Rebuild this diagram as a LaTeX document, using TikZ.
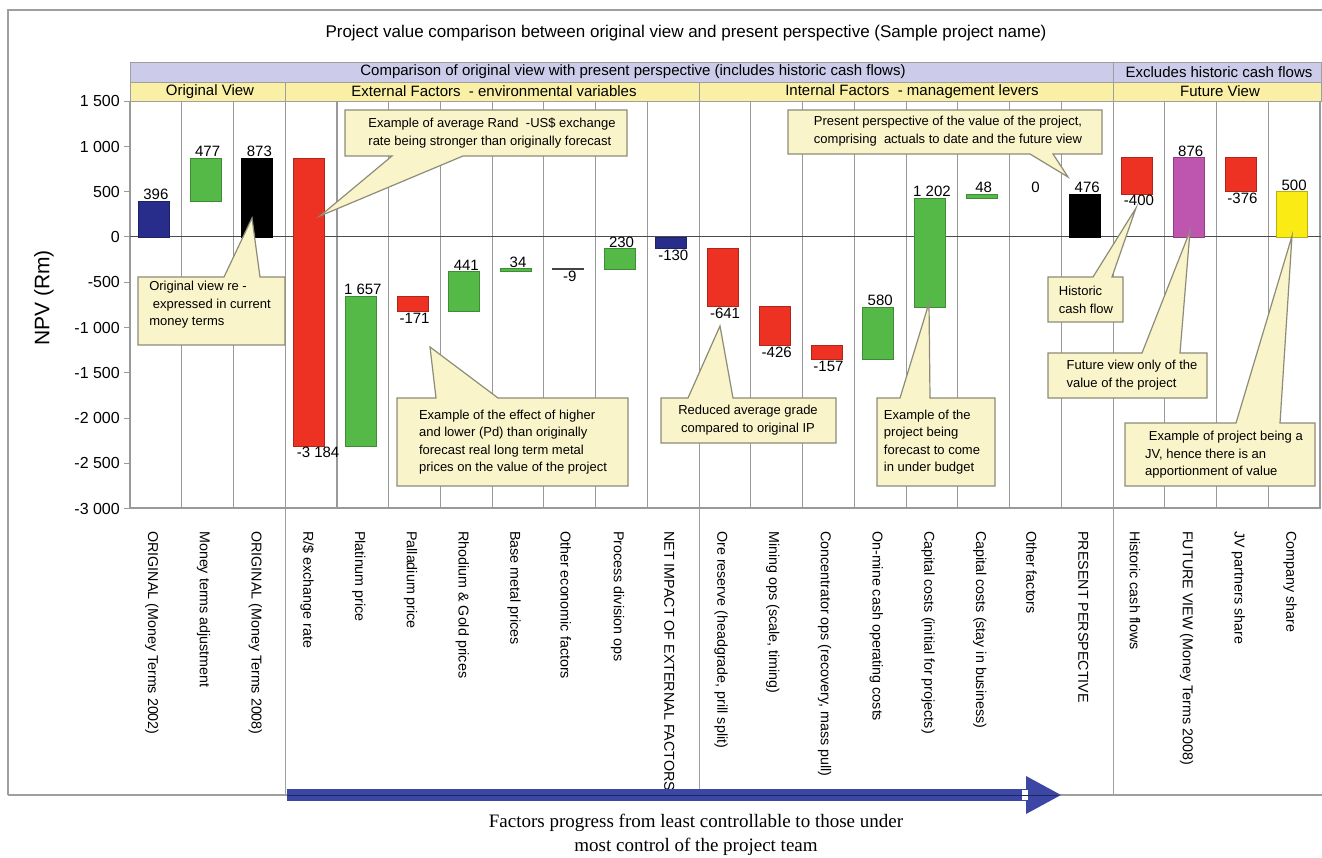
\documentclass[tikz,border=0pt]{standalone}
\usepackage{fontspec}
\setmainfont{Liberation Sans}
\newfontfamily\capserif{Liberation Serif}

\definecolor{barblue}{RGB}{40,45,140}
\definecolor{bargreen}{RGB}{85,185,72}
\definecolor{barred}{RGB}{237,50,36}
\definecolor{barmag}{RGB}{190,85,175}
\definecolor{baryellow}{RGB}{250,235,20}
\definecolor{bargrey}{RGB}{90,90,90}
\definecolor{bandpurple}{RGB}{204,204,234}
\definecolor{bandyellow}{RGB}{250,240,165}
\definecolor{callfill}{RGB}{250,244,202}
\definecolor{callline}{RGB}{140,140,120}
\definecolor{arrowblue}{RGB}{60,70,165}

\newcommand\fsz[2]{\fontsize{#1}{#2}\selectfont}

% waterfall bar: index, from, to, colour, label, a(bove)/b(elow), label x-shift
\newcommand\wfbar[7]{%
  \pgfmathsetmacro\bx{130+(#1-0.5)*51.74}%
  \pgfmathsetmacro\ya{237-(#2)*0.0905}%
  \pgfmathsetmacro\yb{237-(#3)*0.0905}%
  \pgfmathsetmacro\ytop{min(\ya,\yb)}%
  \pgfmathsetmacro\ybot{max(\ya,\yb)}%
  \filldraw[fill=#4, draw=#4!75!black, line width=0.8pt] (\bx-17.5,\ya) rectangle (\bx+13.5,\yb);
  \ifx a#6
    \node[vlab, anchor=south] (v#1) at (\bx+#7,\ytop) {#5};
  \else
    \node[vlab, anchor=north] (v#1) at (\bx+#7,\ybot) {#5};
  \fi
}

% callout with its pointer on the top edge: x1,y1,x2,y2, base1, base2, tip x, tip y
\newcommand\calltop[8]{%
  \filldraw[callbox] (#1,#4) -- (#1,#2) -- (#5,#2) -- (#7,#8) -- (#6,#2) -- (#3,#2) -- (#3,#4) -- cycle;
}
% callout with its pointer on the bottom edge
\newcommand\callbot[8]{%
  \filldraw[callbox] (#1,#2) -- (#3,#2) -- (#3,#4) -- (#6,#4) -- (#7,#8) -- (#5,#4) -- (#1,#4) -- cycle;
}

\begin{document}
\begin{tikzpicture}[x=1pt, y=-1pt,
  gridln/.style={draw=gray!80, line width=1.1pt},
  band/.style={draw=gray!75, line width=0.9pt},
  vlab/.style={font=\fsz{15}{17}, inner sep=1pt},
  catlab/.style={font=\fsz{14.3}{16}, rotate=-90, anchor=west, inner sep=0pt},
  ticklab/.style={font=\fsz{16}{18}, anchor=east, inner sep=0pt},
  callbox/.style={fill=callfill, draw=callline, line width=1.2pt, line join=miter},
  calltext/.style={font=\fsz{13}{17.5}, align=left, inner sep=0pt},
  hdr/.style={font=\fsz{15}{17}, inner sep=0pt},
]
\useasboundingbox (0,0) rectangle (1322,858);
\fill[white] (0,0) rectangle (1322,858);

% outer frame
\draw[gray!75, line width=1.2pt] (8,795) -- (8,10) -- (1330,10);
\draw[gray!75, line width=1.2pt] (8,795) -- (1330,795);

% title
\node[font=\fsz{17}{20}] (title) at (686,33)
  {Project value comparison between original view and present perspective (Sample project name)};

% header bands
\draw[band, fill=bandpurple] (130,62) rectangle (1113,82);
\draw[band, fill=bandpurple] (1113,62) rectangle (1321,82);
\draw[band, fill=bandyellow] (130,82) rectangle (285.2,101);
\draw[band, fill=bandyellow] (285.2,82) rectangle (699.1,101);
\draw[band, fill=bandyellow] (699.1,82) rectangle (1113,101);
\draw[band, fill=bandyellow] (1113,82) rectangle (1321,101);
\node[hdr] (hcomp) at (633,72) {Comparison of original view with present perspective (includes historic cash flows)};
\node[hdr] (hexcl) at (1219,72) {Excludes historic cash flows};
\node[hdr] (horig) at (210,91.5) {Original View};
\node[hdr] (hext) at (494,91.5) {External Factors\ \ - environmental variables};
\node[hdr] (hint) at (912,91.5) {Internal Factors\ \ - management levers};
\node[hdr] (hfut) at (1220,91.5) {Future View};

% column lines
\foreach \i in {1,...,23}
  \draw[gridln] (130+\i*51.74,101) -- (130+\i*51.74,508);
% section separators down to the frame
\foreach \i in {3,11,19}
  \draw[gray!75, line width=1.1pt] (130+\i*51.74,508) -- (130+\i*51.74,795);

% axes
\draw[gray!80, line width=1.1pt] (130,508) -- (1321,508);
\draw[gray!80, line width=1.1pt] (130,101) -- (130,508);
\draw[black!70, line width=1pt] (130,237) -- (1321,237);
\foreach \v/\t in {1500/1 500,1000/1 000,500/500,0/0,-500/-500,-1000/-1 000,-1500/-1 500,-2000/-2 000,-2500/-2 500,-3000/-3 000} {
  \draw[gray!80, line width=1pt] (124,237-\v*0.0905) -- (130,237-\v*0.0905);
  \node[ticklab] (t\v) at (120,237-\v*0.0905) {\t};
}
\node[font=\fsz{21}{24}, rotate=90] (ylab) at (44,298) {NPV (Rm)};

% waterfall bars
\wfbar{1}{0}{396}{barblue}{396}{a}{0}
\wfbar{2}{396}{873}{bargreen}{477}{a}{0}
\wfbar{3}{0}{873}{black}{873}{a}{0}
\wfbar{4}{873}{-2311}{barred}{-3 184}{b}{7}
\wfbar{5}{-2311}{-654}{bargreen}{1 657}{a}{0}
\wfbar{6}{-654}{-825}{barred}{-171}{b}{0}
\wfbar{7}{-825}{-384}{bargreen}{441}{a}{0}
\wfbar{8}{-384}{-350}{bargreen}{34}{a}{0}
\wfbar{9}{-350}{-359}{bargrey}{-9}{b}{0}
\wfbar{10}{-359}{-129}{bargreen}{230}{a}{0}
\wfbar{11}{0}{-130}{barblue}{-130}{b}{0}
\wfbar{12}{-130}{-771}{barred}{-641}{b}{0}
\wfbar{13}{-771}{-1197}{barred}{-426}{b}{0}
\wfbar{14}{-1197}{-1354}{barred}{-157}{b}{0}
\wfbar{15}{-1354}{-774}{bargreen}{580}{a}{0}
\wfbar{16}{-774}{428}{bargreen}{1 202}{a}{0}
\wfbar{17}{428}{476}{bargreen}{48}{a}{0}
\node[vlab, anchor=south] (v18) at (130+17.5*51.74,194) {0};
\wfbar{19}{0}{476}{black}{476}{a}{0}
\wfbar{20}{876}{476}{barred}{-400}{b}{0}
\wfbar{21}{0}{876}{barmag}{876}{a}{0}
\wfbar{22}{876}{500}{barred}{-376}{b}{0}
\wfbar{23}{0}{500}{baryellow}{500}{a}{0}

% category labels
\foreach \i/\t in {
  1/ORIGINAL (Money Terms 2002),
  2/Money terms adjustment,
  3/ORIGINAL (Money Terms 2008),
  4/{R/\$ exchange rate},
  5/Platinum price,
  6/Palladium price,
  7/Rhodium \& Gold prices,
  8/Base metal prices,
  9/Other economic factors,
  10/Process division ops,
  11/NET IMPACT OF EXTERNAL FACTORS,
  12/{Ore reserve (headgrade, prill split)},
  13/{Mining ops (scale, timing)},
  14/{Concentrator ops (recovery, mass pull)},
  15/On-mine cash operating costs,
  16/Capital costs (initial for projects),
  17/Capital costs (stay in business),
  18/Other factors,
  19/PRESENT PERSPECTIVE,
  20/Historic cash flows,
  21/FUTURE VIEW (Money Terms 2008),
  22/JV partners share,
  23/Company share}
  \node[catlab] (c\i) at (130+\i*51.74-25.87-4,531) {\t};

% callouts
\callbot{345}{110}{627}{156}{392}{463}{320}{216}
\node[calltext] (nrand) at (492,133) {Example of average Rand\ \ -US\$ exchange\\rate being stronger than originally forecast};

\calltop{138}{277}{285}{345}{224}{260}{252}{218}
\node[calltext] (norig) at (210,305) {Original view re -\\\ expressed in current\\money terms};

\calltop{397}{398}{628}{486}{436}{498}{430}{347}
\node[calltext] (npd) at (513,442) {Example of the effect of higher\\and lower (Pd) than originally\\forecast real long term metal\\prices on the value of the project};

\calltop{661}{398}{836}{443}{688}{733}{720}{326}
\node[calltext, align=center] (ngrade) at (748,420) {Reduced average grade\\compared to original IP};

\calltop{877}{398}{995}{486}{900}{930}{929}{303}
\node[calltext] (nbudget) at (932,442) {Example of the\\project being\\forecast to come\\in under budget};

\callbot{788}{110}{1102}{154}{1030}{1053}{1068}{177}
\node[calltext] (npres) at (948,131) {Present perspective of the value of the project,\\comprising\ \ actuals\ to date and the future view};

\calltop{1048}{277}{1123}{322}{1093}{1112}{1136}{208}
\node[calltext] (nhist) at (1086,300) {Historic\\cash flow};

\calltop{1048}{353}{1207}{398}{1142}{1180}{1190}{231}
\node[calltext] (nfut) at (1132,375) {Future view only of the\\value of the project};

\calltop{1125}{423}{1315}{486}{1236}{1280}{1292}{236}
\node[calltext] (njv) at (1224,455) {\ Example of project being a\\JV, hence there is an\\apportionment of value};

% progress arrow
\fill[arrowblue] (287,789) rectangle (1026,801);
\fill[arrowblue] (1026,776) -- (1061,795) -- (1026,814) -- cycle;
\fill[white] (1022,790) rectangle (1028,800);
\draw[arrowblue!55!black, line width=0.6pt] (287,795) -- (1058,795);

\node[font=\capserif\fsz{19}{24}, align=center] (cap) at (696,835)
  {Factors progress from least controllable to those under\\most control of the project team};
\end{tikzpicture}
\end{document}
